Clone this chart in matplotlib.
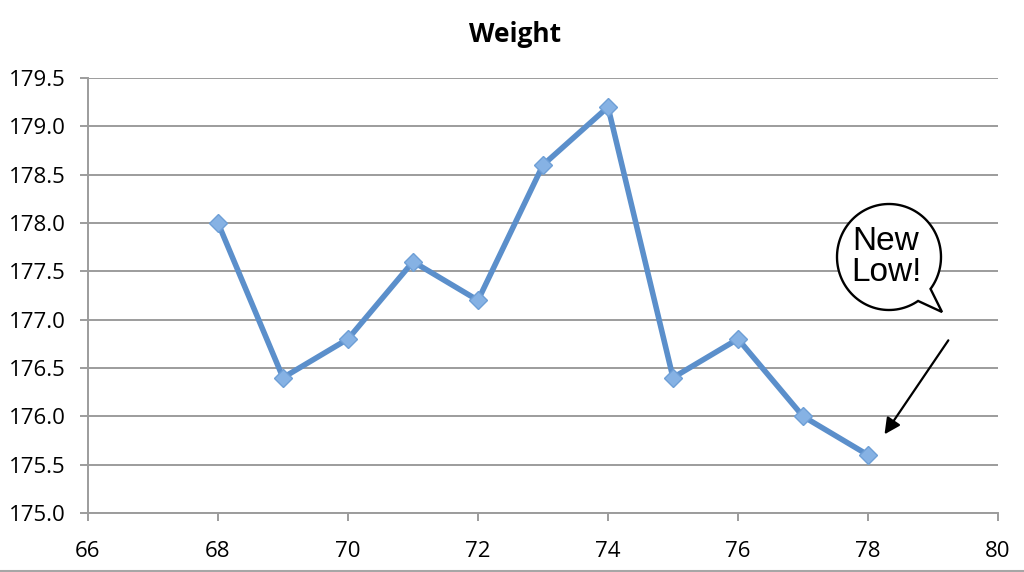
import numpy as np
import matplotlib
matplotlib.use("Agg")
from matplotlib import pyplot as plt
from matplotlib.path import Path
from matplotlib.patches import PathPatch
from matplotlib.transforms import Affine2D
from matplotlib.lines import Line2D

# data
weeks = [68, 69, 70, 71, 72, 73, 74, 75, 76, 77, 78]
weight = [178.0, 176.4, 176.8, 177.6, 177.2, 178.6, 179.2, 176.4, 176.8, 176.0, 175.6]
x_ticks = [66, 68, 70, 72, 74, 76, 78, 80]
y_ticks = [175.0, 175.5, 176.0, 176.5, 177.0, 177.5, 178.0, 178.5, 179.0, 179.5]

plt.rcParams['font.family'] = ['Open Sans', 'DejaVu Sans']

fig = plt.figure(figsize=(10.24, 5.72), dpi=100)
ax = fig.add_axes([88/1024, 59/572, 910/1024, 435/572])

ax.plot(weeks, weight, color='#5b8fcb', lw=4.0, marker='D', ms=9,
        markerfacecolor='#86b2e4', markeredgecolor='#6e9fd6', markeredgewidth=1, zorder=3)

ax.set_xlim(66, 80)
ax.set_ylim(175.0, 179.5)
ax.set_xticks(x_ticks)
ax.set_yticks(y_ticks)
ax.set_yticklabels([f"{v:.1f}" for v in y_ticks])
ax.yaxis.grid(True, color='#9c9c9c', lw=1.4)
ax.set_axisbelow(True)
for s in ['top', 'right']:
    ax.spines[s].set_visible(False)
for s in ['left', 'bottom']:
    ax.spines[s].set_color('#9c9c9c')
    ax.spines[s].set_linewidth(1.4)
ax.tick_params(axis='both', direction='out', length=6, width=1.4, color='#9c9c9c',
               labelsize=16)
ax.tick_params(axis='y', pad=10)
ax.tick_params(axis='x', pad=14)

fig.text(0.503, 1 - 35/572, "Weight", ha='center', va='center', fontsize=19, fontweight='bold')

# arrow pointing to the new low
ax.annotate("", xy=(78.23, 175.79), xytext=(79.26, 176.81),
            arrowprops=dict(arrowstyle='-|>', color='black', lw=1.6, mutation_scale=24),
            annotation_clip=False)

# speech bubble, drawn in pixel coordinates (y up)
px = Affine2D().scale(1/1024, 1/572) + fig.transFigure
cx, cy, rx, ry = 889, 315, 52, 53
a0, a1 = np.deg2rad(-37), np.deg2rad(304)
t = np.linspace(a0, a1, 120)
verts = list(zip(cx + rx*np.cos(t), cy + ry*np.sin(t)))
verts.append((942, 260))
verts.append(verts[0])
codes = [Path.MOVETO] + [Path.LINETO]*(len(verts) - 2) + [Path.CLOSEPOLY]
bubble = PathPatch(Path(verts, codes), transform=px, facecolor='white',
                   edgecolor='black', lw=1.7, zorder=5)
fig.add_artist(bubble)
fig.text(886/1024, 1 - 257/572, "New\nLow!", ha='center', va='center',
         fontsize=24, family=['Liberation Sans', 'DejaVu Sans'], linespacing=1.0, zorder=6)

fig.add_artist(Line2D([0, 1], [1/572, 1/572], transform=fig.transFigure, color='#a6a6a6', lw=1.5))

plt.savefig("out.png", dpi=100)
